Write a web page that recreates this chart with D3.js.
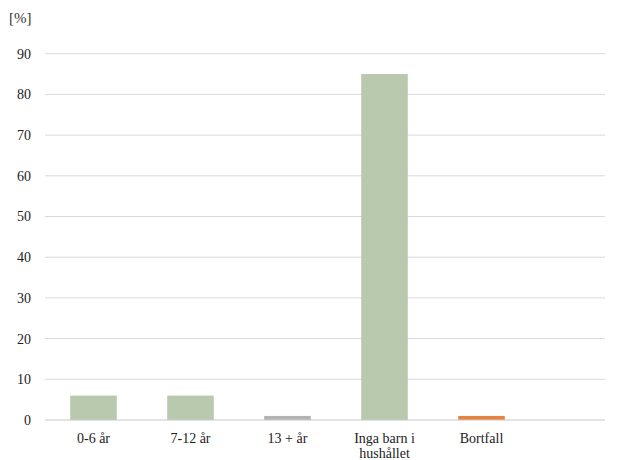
<!DOCTYPE html>
<html>
<head>
<meta charset="utf-8">
<script src="https://cdn.jsdelivr.net/npm/d3@7"></script>
<style>
  body { margin: 0; background: #fff; }
  svg { display: block; }
</style>
</head>
<body>
<svg id="chart" width="627" height="460"></svg>
<script>
// Children in the household by age group, share of respondents (%)
const categories = ["0-6 år", "7-12 år", "13 + år", "Inga barn i hushållet", "Bortfall"];
const labelLines = [["0-6 år"], ["7-12 år"], ["13 + år"], ["Inga barn i", "hushållet"], ["Bortfall"]];
const values = [6, 6, 1, 85, 1];
const barColors = ["#b8c9ad", "#b8c9ad", "#b3b3b3", "#b8c9ad", "#e8823f"];
const yTicks = [0, 10, 20, 30, 40, 50, 60, 70, 80, 90];
const unitLabel = "[%]";

(function draw() {
  const svg = d3.select("#chart");
  const serif = '"Liberation Serif"';
  const plotLeft = 45, plotRight = 605, plotBottom = 420;
  const step = 97;

  const x = d3.scaleBand()
    .domain(categories)
    .range([plotLeft, plotLeft + step * categories.length])
    .paddingInner(0.52)
    .paddingOuter(0.26);

  const y = d3.scaleLinear().domain([0, 100]).range([plotBottom, plotBottom - 407]);

  // gridlines
  svg.append("g")
    .selectAll("line")
    .data(yTicks.filter(d => d > 0))
    .join("line")
    .attr("x1", plotLeft).attr("x2", plotRight)
    .attr("y1", d => y(d)).attr("y2", d => y(d))
    .attr("stroke", "#d9d9d9").attr("stroke-width", 1);

  // y axis labels
  const yAxis = d3.axisLeft(y).tickValues(yTicks).tickSize(0).tickPadding(0);
  const ya = svg.append("g").attr("transform", `translate(${plotLeft - 14},0)`).call(yAxis);
  ya.attr("font-family", null).attr("font-size", null);
  ya.select(".domain").remove();
  ya.selectAll("text")
    .style("font-family", serif)
    .style("font-size", "14px")
    .attr("fill", "#222");

  svg.append("text")
    .attr("x", 9).attr("y", 23)
    .style("font-family", serif)
    .style("font-size", "15px")
    .attr("fill", "#333")
    .text(unitLabel);

  // bars
  svg.append("g")
    .selectAll("rect")
    .data(categories)
    .join("rect")
    .attr("x", d => x(d))
    .attr("width", x.bandwidth())
    .attr("y", (d, i) => y(values[i]))
    .attr("height", (d, i) => y(0) - y(values[i]))
    .attr("fill", (d, i) => barColors[i]);

  // baseline
  svg.append("line")
    .attr("x1", plotLeft).attr("x2", plotRight)
    .attr("y1", y(0)).attr("y2", y(0))
    .attr("stroke", "#c8c8c8").attr("stroke-width", 1);

  // category labels
  const xl = svg.append("g")
    .selectAll("text")
    .data(categories)
    .join("text")
    .attr("text-anchor", "middle")
    .style("font-family", serif)
    .style("font-size", "14px")
    .attr("fill", "#222")
    .attr("transform", d => `translate(${x(d) + x.bandwidth() / 2},${plotBottom + 23})`);
  xl.each(function(d, i) {
    d3.select(this).selectAll("tspan")
      .data(labelLines[i])
      .join("tspan")
      .attr("x", 0)
      .attr("dy", (t, j) => j === 0 ? 0 : 15)
      .text(t => t);
  });
})();
</script>
</body>
</html>
